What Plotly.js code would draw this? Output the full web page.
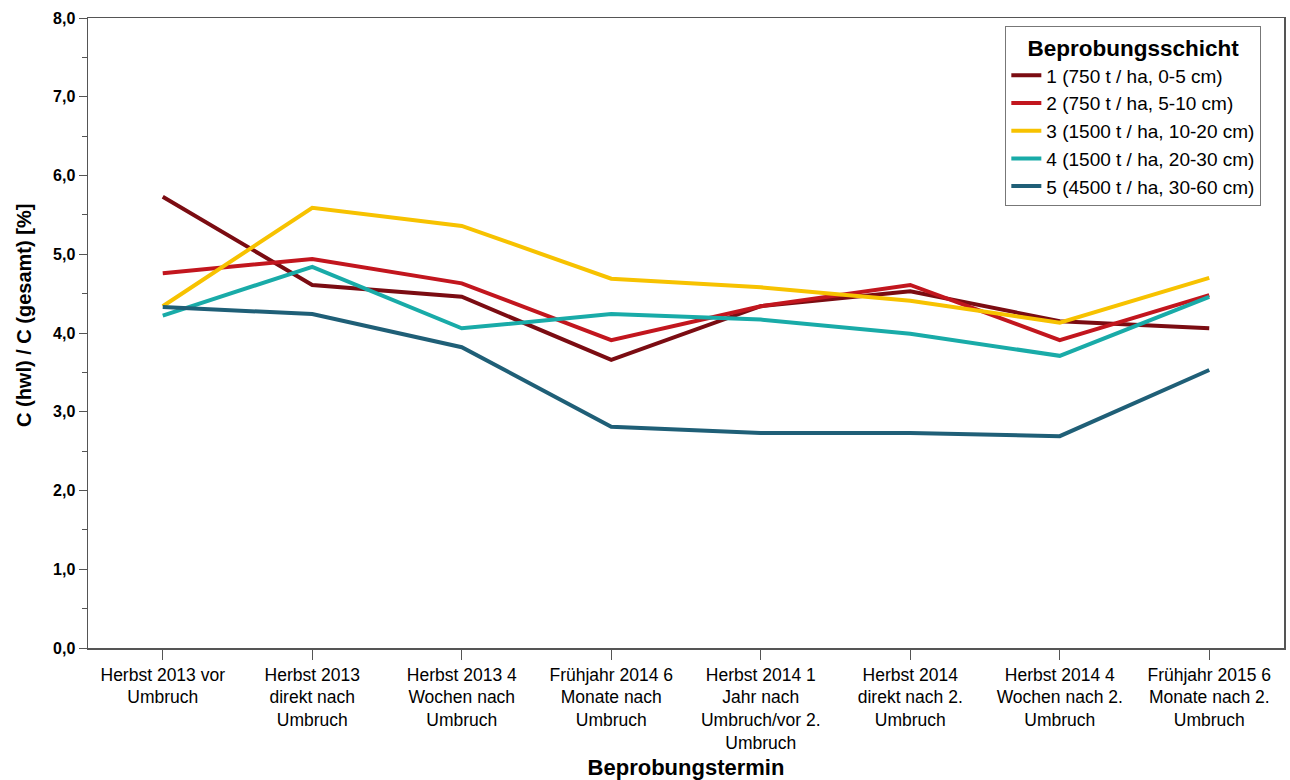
<!DOCTYPE html>
<html>
<head>
<meta charset="utf-8">
<script src="https://cdn.plot.ly/plotly-3.0.1.min.js"></script>
<style>body{margin:0;background:#fff}#chart{width:1290px;height:780px}</style>
</head>
<body>
<div id="chart"></div>
<script>
const categories = [
  "Herbst 2013 vor<br>Umbruch",
  "Herbst 2013<br>direkt nach<br>Umbruch",
  "Herbst 2013 4<br>Wochen nach<br>Umbruch",
  "Frühjahr 2014 6<br>Monate nach<br>Umbruch",
  "Herbst 2014 1<br>Jahr nach<br>Umbruch/vor 2.<br>Umbruch",
  "Herbst 2014<br>direkt nach 2.<br>Umbruch",
  "Herbst 2014 4<br>Wochen nach 2.<br>Umbruch",
  "Frühjahr 2015 6<br>Monate nach 2.<br>Umbruch"
];
const seriesNames = [
  "1 (750 t / ha, 0-5 cm)",
  "2 (750 t / ha, 5-10 cm)",
  "3 (1500 t / ha, 10-20 cm)",
  "4 (1500 t / ha, 20-30 cm)",
  "5 (4500 t / ha, 30-60 cm)"
];
const layer1 = [5.73, 4.61, 4.46, 3.66, 4.34, 4.53, 4.15, 4.06];
const layer2 = [4.76, 4.94, 4.63, 3.91, 4.34, 4.61, 3.91, 4.48];
const layer3 = [4.34, 5.59, 5.36, 4.69, 4.58, 4.41, 4.13, 4.70];
const layer4 = [4.22, 4.84, 4.06, 4.24, 4.17, 3.99, 3.71, 4.46];
const layer5 = [4.33, 4.24, 3.82, 2.81, 2.73, 2.73, 2.69, 3.53];
const colors = ["#7b0c12", "#c2161e", "#f7c200", "#19aba8", "#1f5f77"];

const allSeries = [layer1, layer2, layer3, layer4, layer5];
const traces = allSeries.map((vals, i) => ({
  type: "scatter",
  mode: "lines",
  x: categories,
  y: vals,
  name: seriesNames[i],
  line: {color: colors[i], width: 4}
}));

const layout = {
  width: 1290, height: 780,
  margin: {l: 88, r: 6, t: 18, b: 132},
  paper_bgcolor: "#fff", plot_bgcolor: "#fff",
  separators: ",.",
  font: {family: "Liberation Sans, Arial, sans-serif", color: "#000"},
  showlegend: true,
  legend: {
    x: 0.767, y: 0.987, xanchor: "left", yanchor: "top",
    xref: "paper", yref: "paper",
    bgcolor: "#fff", bordercolor: "#777", borderwidth: 1,
    font: {size: 19, color: "#000"},
    title: {text: "<b>Beprobungsschicht</b>", side: "top center", font: {size: 22.5, color: "#000"}},
    tracegroupgap: 0, itemwidth: 30
  },
  xaxis: {
    type: "category",
    range: [-0.5, 7.5],
    showline: true, linecolor: "#555", linewidth: 1.5, mirror: true,
    ticks: "outside", ticklen: 10, tickcolor: "#555",
    showgrid: false, zeroline: false,
    tickfont: {size: 17.5, color: "#000"},
    title: {text: "<b>Beprobungstermin</b>", font: {size: 22, color: "#000"}, standoff: 8}
  },
  yaxis: {
    range: [0, 8],
    dtick: 1, tickformat: ".1f",
    showline: true, linecolor: "#555", linewidth: 1.5, mirror: true,
    ticks: "outside", ticklen: 8, tickcolor: "#555",
    minor: {dtick: 0.5, ticks: "outside", ticklen: 5, tickcolor: "#555"},
    showgrid: false, zeroline: false,
    tickfont: {size: 16, color: "#000", weight: "bold"}
  },
  annotations: [{
    text: "<b>C (hwl) / C (gesamt) [%]</b>",
    textangle: -90,
    xref: "paper", yref: "paper",
    x: -0.0535, y: 0.527,
    xanchor: "center", yanchor: "middle",
    showarrow: false,
    font: {size: 20, color: "#000"}
  }]
};

Plotly.newPlot("chart", traces, layout, {displayModeBar: false, staticPlot: true});
</script>
</body>
</html>
